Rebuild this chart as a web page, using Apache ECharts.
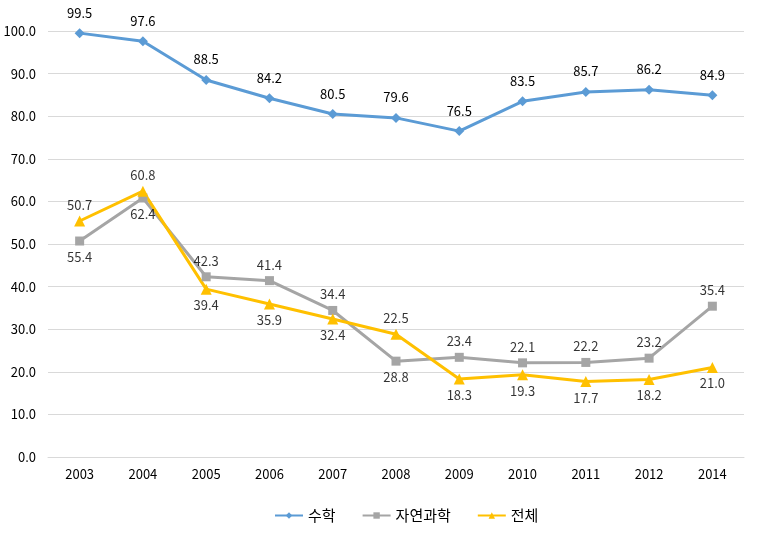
<!DOCTYPE html>
<html><head><meta charset="utf-8">
<script src="https://cdn.jsdelivr.net/npm/echarts@6/dist/echarts.min.js"></script>
<style>html,body{margin:0;padding:0;background:#fff}#c{width:757px;height:534px}</style>
</head><body><div id="c"></div>
<script>
const categories = ['2003','2004','2005','2006','2007','2008','2009','2010','2011','2012','2014'];
const math = [99.5, 97.6, 88.5, 84.2, 80.5, 79.6, 76.5, 83.5, 85.7, 86.2, 84.9];
const science = [50.7, 60.8, 42.3, 41.4, 34.4, 22.5, 23.4, 22.1, 22.2, 23.2, 35.4];
const total = [55.4, 62.4, 39.4, 35.9, 32.4, 28.8, 18.3, 19.3, 17.7, 18.2, 21.0];
const seriesNames = ['수학', '자연과학', '전체'];
const yTicks = {min: 0, max: 100, interval: 10};

const font = '"Noto Sans CJK KR", "Noto Sans", sans-serif';
const upper = science.map((v, i) => Math.max(v, total[i]));
const lower = science.map((v, i) => Math.min(v, total[i]));

const chart = echarts.init(document.getElementById('c'));
chart.setOption({
  animation: false,
  textStyle: {fontFamily: font},
  grid: {left: 48, right: 13, top: 31, bottom: 77},
  legend: {
    data: seriesNames, bottom: 6, left: 269, itemWidth: 28, itemHeight: 8, itemGap: 26,
    textStyle: {fontSize: 15, color: '#000', fontFamily: font}
  },
  xAxis: {
    type: 'category', data: categories, boundaryGap: true,
    axisTick: {show: false},
    axisLine: {lineStyle: {color: '#d9d9d9'}},
    axisLabel: {color: '#000', fontSize: 13, margin: 11}
  },
  yAxis: {
    type: 'value', min: yTicks.min, max: yTicks.max, interval: yTicks.interval,
    axisLine: {show: false}, axisTick: {show: false},
    splitLine: {lineStyle: {color: '#d9d9d9'}},
    axisLabel: {color: '#000', fontSize: 13, margin: 12, formatter: v => v.toFixed(1)}
  },
  series: [
    {name: seriesNames[0], type: 'line', data: math, symbol: 'diamond', symbolSize: 10,
     lineStyle: {width: 3, color: '#5B9BD5'}, itemStyle: {color: '#5B9BD5'},
     label: {show: true, position: 'top', distance: 9, color: '#000', fontSize: 13, formatter: p => p.value.toFixed(1)}},
    {name: seriesNames[1], type: 'line', data: science, symbol: 'rect', symbolSize: 9,
     lineStyle: {width: 3, color: '#A5A5A5'}, itemStyle: {color: '#A5A5A5'}},
    {name: seriesNames[2], type: 'line', data: total, symbol: 'triangle', symbolSize: 11,
     lineStyle: {width: 3, color: '#FFC000'}, itemStyle: {color: '#FFC000'}},
    {name: 'scienceLabels', type: 'scatter', data: upper, symbolSize: 1, itemStyle: {color: 'rgba(0,0,0,0)'},
     silent: true, z: 5,
     label: {show: true, position: 'top', distance: 9, color: '#000', fontSize: 13,
       formatter: p => science[p.dataIndex].toFixed(1)}},
    {name: 'totalLabels', type: 'scatter', data: lower, symbolSize: 1, itemStyle: {color: 'rgba(0,0,0,0)'},
     silent: true, z: 5,
     label: {show: true, position: 'bottom', distance: 9, color: '#000', fontSize: 13,
       formatter: p => total[p.dataIndex].toFixed(1)}}
  ]
});
</script></body></html>
